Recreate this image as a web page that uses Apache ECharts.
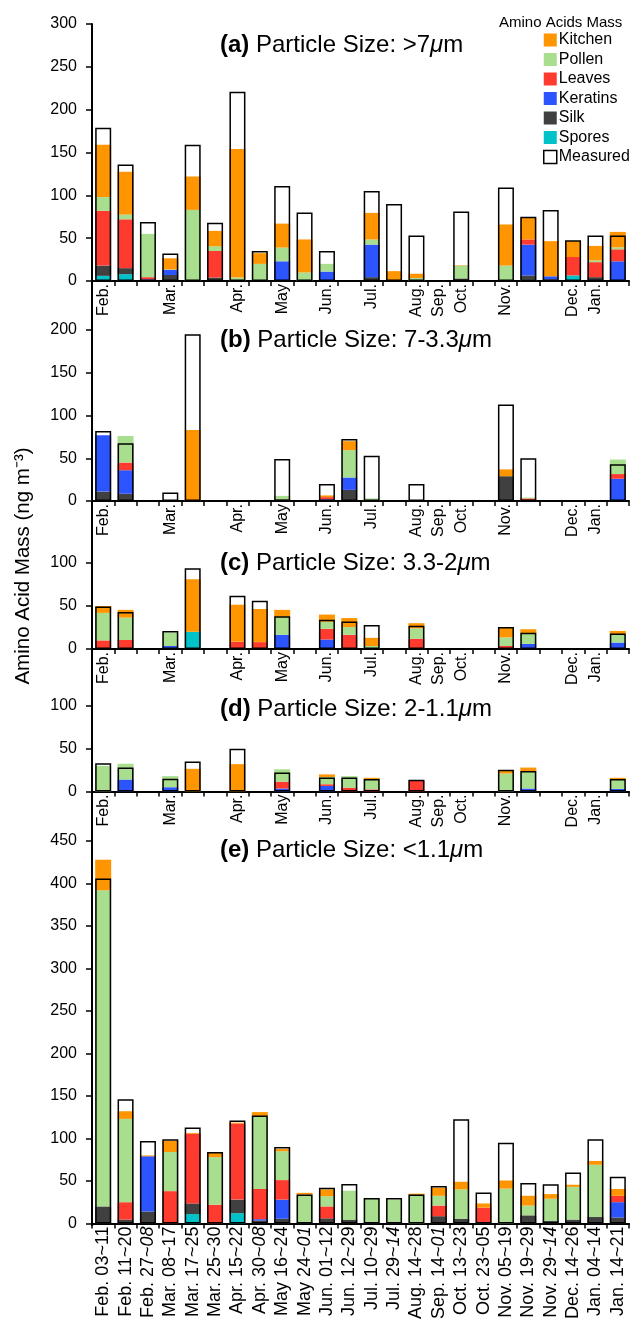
<!DOCTYPE html>
<html>
<head>
<meta charset="utf-8">
<script src="https://cdn.jsdelivr.net/npm/echarts/dist/echarts.min.js"></script>
<style>
html, body { margin: 0; padding: 0; background: #fff; }
#chart { width: 632px; height: 1322px; }
</style>
</head>
<body>
<div id="chart"></div>
<script>
const FONT = '"Liberation Sans", Arial, Helvetica, sans-serif'

// ============ 类别 / 刻度 ============
const dateLabels = [
  'Feb. 03~11', 'Feb. 11~20', 'Feb. 27~08', 'Mar. 08~17', 'Mar. 17~25', 'Mar. 25~30',
  'Apr. 15~22', 'Apr. 30~08', 'May 16~24', 'May 24~01', 'Jun. 01~12', 'Jun. 12~29',
  'Jul. 10~29', 'Jul. 29~14', 'Aug. 14~28', 'Sep. 14~01', 'Oct. 13~23', 'Oct. 23~05',
  'Nov. 05~19', 'Nov. 19~29', 'Nov. 29~14', 'Dec. 14~26', 'Jan. 04~14', 'Jan. 14~21'
]
// end day falls in the next month -> italic
const italicEnd = [2, 7, 9, 13, 15, 20]
const monthIdx = [0, 3, 6, 8, 10, 12, 14, 15, 16, 18, 21, 22]
const monthNames = ['Feb.', 'Mar.', 'Apr.', 'May', 'Jun.', 'Jul.', 'Aug.', 'Sep.', 'Oct.', 'Nov.', 'Dec.', 'Jan.']
const panelMax = [300, 200, 100, 100, 450]

// stacking order, bottom -> top
const components = ['Spores', 'Silk', 'Keratins', 'Leaves', 'Pollen', 'Kitchen']
const legendOrder = ['Kitchen', 'Pollen', 'Leaves', 'Keratins', 'Silk', 'Spores', 'Measured']
const colors = {
  Kitchen: '#ff9500',
  Pollen: '#a8de8e',
  Leaves: '#ff3b30',
  Keratins: '#2d55ff',
  Silk: '#404040',
  Spores: '#00c2c8'
}

// ============ (a) >7um ============
const aMeasured = [179, 136, 69, 32, 159, 68, 221, 35, 111, 80, 35, null, 105, 90, 53, null, 81, null, 109, 75, 83, 47.5, 53, 53]
const aSpores   = [6, 8, 0, 0, 0, 1, 0, 0, 0, 0, 0, 0, 0, 0, 0, 0, 0, 0, 0, 1.5, 0, 6.5, 0, 0]
const aSilk     = [12, 7, 1, 7, 0, 3, 0, 0, 0, 0, 0, 0, 4.5, 0, 0, 0, 3, 0, 0, 5, 2, 0, 4.5, 0]
const aKeratins = [0, 0, 1, 6, 0, 0, 0, 0, 23, 0, 11, 0, 38, 0, 0, 0, 0, 0, 0, 36, 3.5, 0, 0, 23]
const aLeaves   = [64, 57, 2.5, 0, 0, 31, 0, 0, 0, 0, 0, 0, 0, 0, 0, 0, 0, 0, 0, 6, 0, 21.5, 17.5, 14]
const aPollen   = [16, 5.5, 50.5, 0.5, 83, 5.5, 4, 20, 16, 10, 9, 0, 6, 0, 3.5, 0, 15, 0, 18, 0, 0, 0, 2, 2.3]
const aKitchen  = [61, 50, 0, 13, 39, 18, 150, 12.5, 28, 38.5, 0, 0, 31, 11.5, 5, 0, 0.5, 0, 48, 25, 41, 18.5, 17, 18]

// ============ (b) 7-3.3um ============
const bMeasured = [82, 67.5, null, 10, 195, null, null, null, 49, null, 20, 72.5, 53, null, 20, null, null, null, 113, 50, null, null, null, 43]
const bSpores   = [0, 0, 0, 0, 0, 0, 0, 0, 0, 0, 0, 0, 0, 0, 0, 0, 0, 0, 0, 0, 0, 0, 0, 0]
const bSilk     = [11, 8.5, 0, 0, 0, 0, 0, 0, 2, 0, 0, 13, 0, 0, 0, 0, 0, 0, 29, 0, 0, 0, 0, 0]
const bKeratins = [66, 27.5, 0, 0, 0, 0, 0, 0, 0, 0, 2, 14.5, 0, 0, 0, 0, 0, 0, 0, 0, 0, 0, 0, 26]
const bLeaves   = [0, 9, 0, 0, 0, 0, 0, 0, 0, 0, 2.5, 0, 0, 0, 0, 0, 0, 0, 0, 3, 0, 0, 0, 5.5]
const bPollen   = [0, 31, 0, 0, 0, 0, 0, 0, 4, 0, 0, 32, 3, 0, 0, 0, 0, 0, 0, 1, 0, 0, 0, 17]
const bKitchen  = [0, 0, 0, 0, 83, 0, 0, 0, 0, 0, 2, 10.5, 0, 0, 0, 0, 0, 0, 8, 0, 0, 0, 0, 0]

// ============ (c) 3.3-2um ============
const cMeasured = [49.5, 43, null, 21, 94, null, 62, 56, 38, null, 34, 32, 28, null, 27, null, null, null, 25.5, 19, null, null, null, 18]
const cSpores   = [0, 0, 0, 0, 20, 0, 0, 0, 0, 0, 0, 0, 0, 0, 0, 0, 0, 0, 0, 0, 0, 0, 0, 0]
const cSilk     = [0, 0, 0, 0, 0, 0, 0, 0, 0, 0, 0, 0, 0, 0, 0, 0, 0, 0, 0, 0, 0, 0, 0, 0]
const cKeratins = [0, 0, 0, 3.5, 0, 0, 0, 0, 16.5, 0, 11, 0, 0, 0, 0, 0, 0, 0, 0, 6, 0, 0, 0, 7.5]
const cLeaves   = [10, 10.5, 0, 0, 0, 0, 8.5, 8, 0, 0, 12.5, 16.5, 0, 0, 12, 0, 0, 0, 3.5, 0, 0, 0, 0, 0]
const cPollen   = [32, 26, 0, 15.5, 0, 0, 0, 0, 21, 0, 8, 9, 3.5, 0, 12, 0, 0, 0, 10, 12, 0, 0, 0, 10]
const cKitchen  = [8, 9, 0, 0, 61, 0, 43, 38.5, 8, 0, 8.5, 10.5, 9.5, 0, 6, 0, 0, 0, 11.5, 5, 0, 0, 0, 3.5]

// ============ (d) 2-1.1um ============
const dMeasured = [33, 28, null, 15, 35, null, 50, null, 22.3, null, 16.5, 16.5, 14.5, null, 13.7, null, null, null, 25.5, 24, null, null, null, 14.5]
const dSpores   = [0, 0, 0, 0, 0, 0, 0, 0, 0, 0, 0, 0, 0, 0, 0, 0, 0, 0, 0, 0, 0, 0, 0, 0]
const dSilk     = [0, 0, 0, 0, 0, 0, 0, 0, 0, 0, 0, 0, 0, 0, 0, 0, 0, 0, 0, 0, 0, 0, 0, 0]
const dKeratins = [0, 14, 0, 5, 0, 0, 0, 0, 3.5, 0, 6.5, 0, 0, 0, 0, 0, 0, 0, 0, 3.5, 0, 0, 0, 3]
const dLeaves   = [0, 0, 0, 0, 0, 0, 0, 0, 8, 0, 2, 4.5, 2.5, 0, 13, 0, 0, 0, 0, 0, 0, 0, 0, 0]
const dPollen   = [30, 18.5, 0, 13, 0, 0, 0, 0, 14.5, 0, 8.5, 13.5, 12, 0, 0, 0, 0, 0, 21, 20.5, 0, 0, 0, 11.5]
const dKitchen  = [0, 0, 0, 0, 26.5, 0, 32, 0, 0, 0, 3, 0, 1.5, 0, 0, 0, 0, 0, 4, 4, 0, 0, 0, 1.5]

// ============ (e) <1.1um ============
const eMeasured = [406, 146, 97, 99, 113, 84, 121, 127, 90, 34, 42, 46.5, 30, 30, 34, 44, 122.5, 36.5, 95, 47.5, 46, 60, 99, 55]
const eSpores   = [0, 0, 0, 0, 11, 0, 12, 0, 0, 0, 0, 0, 0, 0, 0, 0, 0, 0, 0, 0, 0, 0, 0, 0]
const eSilk     = [20, 4.5, 14, 0, 12.5, 0, 16, 3.5, 5.5, 1.5, 6, 4, 1, 2, 0, 8.5, 5.5, 1.5, 0, 9.5, 3, 4.5, 7.5, 7]
const eKeratins = [0, 0, 65, 0, 0, 0, 0, 1.5, 22.5, 0, 0, 0, 0, 0, 0, 0, 0, 0, 0, 0, 0, 0, 0, 18]
const eLeaves   = [0, 20.5, 0, 38, 82, 22, 89.5, 35.5, 23, 0, 14, 0, 0, 0, 0, 12.5, 0, 17, 0, 0, 0, 0, 0, 7.5]
const ePollen   = [372, 98, 0, 46, 0, 56, 0, 85, 34, 32.5, 12, 34.5, 29, 26, 33.5, 11.5, 34.5, 0, 41, 11.5, 26, 38.5, 61.5, 0]
const eKitchen  = [36, 9, 1, 13, 1, 5, 1, 5.5, 2.5, 2, 8, 0, 0, 0, 1.5, 9.5, 9, 5, 9.5, 11.5, 5.5, 2.5, 4.5, 8]

const panels = [
  { tag: '(a)', size: '>7', measured: aMeasured, parts: [aSpores, aSilk, aKeratins, aLeaves, aPollen, aKitchen] },
  { tag: '(b)', size: '7-3.3', measured: bMeasured, parts: [bSpores, bSilk, bKeratins, bLeaves, bPollen, bKitchen] },
  { tag: '(c)', size: '3.3-2', measured: cMeasured, parts: [cSpores, cSilk, cKeratins, cLeaves, cPollen, cKitchen] },
  { tag: '(d)', size: '2-1.1', measured: dMeasured, parts: [dSpores, dSilk, dKeratins, dLeaves, dPollen, dKitchen] },
  { tag: '(e)', size: '<1.1', measured: eMeasured, parts: [eSpores, eSilk, eKeratins, eLeaves, ePollen, eKitchen] }
]

// ============ 布局 ============
const PLOT_LEFT = 92
const PLOT_RIGHT = 629
const gridTop = [24, 330, 563, 706, 841]
const gridBottom = [281, 501, 649, 791.5, 1226]
const titleY = [45, 340, 563, 709, 850]
const BAR_W = 16

const chart = echarts.init(document.getElementById('chart'), null, { renderer: 'canvas' })

const grids = panels.map((p, i) => ({
  left: PLOT_LEFT,
  width: PLOT_RIGHT - PLOT_LEFT,
  top: gridTop[i],
  height: gridBottom[i] - gridTop[i]
}))

const monthFormatter = (v, idx) => {
  const k = monthIdx.indexOf(idx)
  return k >= 0 ? monthNames[k] : ''
}

const dateFormatter = (v, idx) => {
  if (italicEnd.indexOf(idx) < 0) return v
  const parts = v.split('~')
  return parts[0] + '~{i|' + parts[1] + '}'
}

const xAxes = panels.map((p, i) => ({
  type: 'category',
  gridIndex: i,
  data: dateLabels,
  boundaryGap: true,
  axisLine: { lineStyle: { color: '#000', width: 2 } },
  axisTick: { show: true, length: 5, lineStyle: { color: '#000', width: 1.5 } },
  axisLabel: {
    interval: 0,
    rotate: 90,
    margin: 3,
    color: '#000',
    fontFamily: FONT,
    fontSize: i === 4 ? 18 : 16,
    formatter: i === 4 ? dateFormatter : monthFormatter,
    rich: i === 4 ? { i: { fontStyle: 'italic', fontSize: 18, fontFamily: FONT, color: '#000' } } : undefined
  },
  splitLine: { show: false }
}))

const yAxes = panels.map((p, i) => ({
  type: 'value',
  gridIndex: i,
  min: 0,
  max: panelMax[i],
  interval: 50,
  axisLine: { show: true, lineStyle: { color: '#000', width: 2 } },
  axisTick: { show: true, length: 6, lineStyle: { color: '#000', width: 1.5 } },
  axisLabel: { color: '#000', fontFamily: FONT, fontSize: 16, margin: 15 },
  splitLine: { show: false }
}))

const series = []
panels.forEach((p, i) => {
  components.forEach((name, c) => {
    series.push({
      type: 'bar',
      name,
      xAxisIndex: i,
      yAxisIndex: i,
      stack: 'panel' + i,
      barWidth: BAR_W,
      barGap: '-100%',
      data: p.parts[c],
      itemStyle: { color: colors[name] },
      emphasis: { disabled: true }
    })
  })
  series.push({
    type: 'bar',
    name: 'Measured',
    xAxisIndex: i,
    yAxisIndex: i,
    barWidth: BAR_W,
    barGap: '-100%',
    z: 3,
    data: p.measured,
    itemStyle: { color: 'rgba(0,0,0,0)', borderColor: '#000', borderWidth: 1.5 },
    emphasis: { disabled: true }
  })
})

const titleGraphics = panels.map((p, i) => ({
  type: 'text',
  x: 220,
  y: titleY[i],
  style: {
    text: '{b|' + p.tag + '}{n| Particle Size: ' + p.size + '}{u|μ}{n|m}',
    align: 'left',
    verticalAlign: 'middle',
    rich: {
      b: { fontFamily: FONT, fontSize: 24, fontWeight: 'bold', fill: '#000' },
      n: { fontFamily: FONT, fontSize: 24, fill: '#000' },
      u: { fontFamily: FONT, fontSize: 24, fontStyle: 'italic', fill: '#000' }
    }
  }
}))

chart.setOption({
  backgroundColor: '#fff',
  animation: false,
  grid: grids,
  xAxis: xAxes,
  yAxis: yAxes,
  legend: {
    orient: 'vertical',
    left: 543,
    top: 32,
    padding: 0,
    itemWidth: 13,
    itemHeight: 13,
    itemGap: 3.5,
    icon: 'rect',
    selectedMode: false,
    textStyle: { fontFamily: FONT, fontSize: 16, color: '#000', lineHeight: 16, padding: [0, 0, 0, -3] },
    data: legendOrder.map((name) =>
      name === 'Measured'
        ? { name, itemStyle: { color: '#fff', borderColor: '#000', borderWidth: 1.5 } }
        : { name }
    )
  },
  graphic: [
    // continuous left axis through all panels
    {
      type: 'line',
      shape: { x1: PLOT_LEFT, y1: gridTop[0], x2: PLOT_LEFT, y2: gridBottom[4] },
      style: { stroke: '#000', lineWidth: 2 },
      z: 10
    },
    {
      type: 'text',
      x: 499,
      y: 23,
      style: { text: 'Amino Acids Mass', fontFamily: FONT, fontSize: 15, fill: '#000', align: 'left', verticalAlign: 'middle' }
    },
    {
      type: 'text',
      x: 23,
      y: 566,
      rotation: Math.PI / 2,
      style: { text: 'Amino Acid Mass (ng m⁻³)', fontFamily: FONT, fontSize: 20.5, fill: '#000', align: 'center', verticalAlign: 'middle' }
    },
    ...titleGraphics
  ],
  series
})
</script>
</body>
</html>
